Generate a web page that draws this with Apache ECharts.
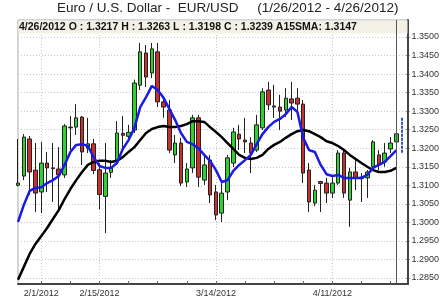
<!DOCTYPE html>
<html><head><meta charset="utf-8">
<script src="https://cdn.jsdelivr.net/npm/echarts@6/dist/echarts.min.js"></script>
<style>html,body{margin:0;padding:0;background:#fff}#c{width:442px;height:300px}</style>
</head><body><div id="c"></div>
<script>
const dates = ["1/26/2012","1/27/2012","1/30/2012","1/31/2012",
"2/1/2012","2/2/2012","2/3/2012","2/6/2012","2/7/2012","2/8/2012","2/9/2012","2/10/2012","2/13/2012","2/14/2012","2/15/2012","2/16/2012","2/17/2012","2/20/2012","2/21/2012","2/22/2012","2/23/2012","2/24/2012","2/27/2012","2/28/2012","2/29/2012",
"3/1/2012","3/2/2012","3/5/2012","3/6/2012","3/7/2012","3/8/2012","3/9/2012","3/12/2012","3/13/2012","3/14/2012","3/15/2012","3/16/2012","3/19/2012","3/20/2012","3/21/2012","3/22/2012","3/23/2012","3/26/2012","3/27/2012","3/28/2012","3/29/2012","3/30/2012",
"4/2/2012","4/3/2012","4/4/2012","4/5/2012","4/6/2012","4/9/2012","4/10/2012","4/11/2012","4/12/2012","4/13/2012","4/16/2012","4/17/2012","4/18/2012","4/19/2012","4/20/2012","4/23/2012","4/24/2012","4/25/2012","4/26/2012",
"4/27/2012","4/30/2012"];
const opens  = [1.3100,1.3125,1.3225,1.3141,1.3082,1.3160,1.3147,1.3144,1.3128,1.3257,1.3257,1.3284,1.3200,1.3212,1.3142,1.3070,1.3135,1.3163,1.3240,1.3232,1.3249,1.3370,1.3457,1.3403,1.3460,1.3325,1.3303,1.3182,1.3214,1.3109,1.3147,1.3282,1.3114,1.3168,1.3082,1.3025,1.3082,1.3160,1.3238,1.3222,1.3214,1.3195,1.3255,1.3357,1.3314,1.3311,1.3303,1.3333,1.3335,1.3319,1.3141,1.3052,1.3110,1.3106,1.3079,1.3106,1.3187,1.3060,1.3136,1.3122,1.3120,1.3150,1.3182,1.3163,1.3198,1.3217];
const highs  = [1.3225,1.3238,1.3233,1.3214,1.3217,1.3190,1.3214,1.3203,1.3265,1.3287,1.3319,1.3287,1.3282,1.3225,1.3160,1.3214,1.3168,1.3273,1.3287,1.3263,1.3385,1.3484,1.3478,1.3484,1.3484,1.3330,1.3330,1.3236,1.3228,1.3160,1.3290,1.3290,1.3182,1.3182,1.3101,1.3106,1.3182,1.3255,1.3263,1.3282,1.3230,1.3290,1.3362,1.3379,1.3371,1.3344,1.3362,1.3379,1.3362,1.3330,1.3160,1.3101,1.3112,1.3120,1.3122,1.3195,1.3195,1.3147,1.3168,1.3133,1.3141,1.3222,1.3195,1.3214,1.3230,1.3263];
const lows   = [1.3097,1.3114,1.3074,1.3028,1.3025,1.3082,1.3055,1.3033,1.3120,1.3195,1.3236,1.3155,1.3187,1.3130,1.3035,1.2971,1.3120,1.3155,1.3195,1.3222,1.3241,1.3357,1.3365,1.3389,1.3311,1.3282,1.3187,1.3160,1.3098,1.3095,1.3133,1.3095,1.3101,1.3052,1.3006,1.3001,1.3060,1.3149,1.3195,1.3187,1.3133,1.3190,1.3249,1.3303,1.3282,1.3249,1.3284,1.3276,1.3300,1.3106,1.3028,1.3044,1.3028,1.3052,1.3066,1.3101,1.3066,1.2988,1.3087,1.3055,1.3066,1.3147,1.3141,1.3150,1.3187,1.3198];
const closes = [1.3106,1.3230,1.3136,1.3079,1.3160,1.3147,1.3145,1.3128,1.3260,1.3255,1.3282,1.3190,1.3212,1.3140,1.3075,1.3133,1.3148,1.3241,1.3235,1.3243,1.3376,1.3460,1.3392,1.3468,1.3325,1.3311,1.3195,1.3214,1.3106,1.3144,1.3282,1.3122,1.3155,1.3074,1.3020,1.3079,1.3174,1.3244,1.3225,1.3217,1.3187,1.3263,1.3352,1.3317,1.3311,1.3300,1.3335,1.3322,1.3319,1.3133,1.3055,1.3087,1.3105,1.3079,1.3106,1.3187,1.3079,1.3136,1.3120,1.3118,1.3136,1.3217,1.3155,1.3187,1.3214,1.3239];
const sma15  = [1.2845,1.2880,1.2915,1.2942,1.2963,1.2985,1.3009,1.3033,1.3063,1.3090,1.3114,1.3136,1.3155,1.3163,1.3166,1.3166,1.3163,1.3166,1.3176,1.3190,1.3203,1.3222,1.3241,1.3252,1.3257,1.3260,1.3257,1.3257,1.3260,1.3265,1.3273,1.3273,1.3271,1.3257,1.3244,1.3230,1.3214,1.3198,1.3182,1.3174,1.3171,1.3174,1.3182,1.3198,1.3209,1.3217,1.3228,1.3238,1.3246,1.3249,1.3246,1.3238,1.3230,1.3219,1.3214,1.3206,1.3195,1.3182,1.3171,1.3160,1.3150,1.3141,1.3136,1.3136,1.3139,1.3147];
const smaFast = [1.3001,1.3047,1.3085,1.3093,1.3095,1.3106,1.3114,1.3125,1.3155,1.3190,1.3209,1.3211,1.3206,1.3176,1.3152,1.3147,1.3147,1.3160,1.3198,1.3222,1.3255,1.3311,1.3338,1.3368,1.3357,1.3336,1.3306,1.3276,1.3241,1.3217,1.3211,1.3200,1.3182,1.3166,1.3141,1.3109,1.3114,1.3139,1.3155,1.3168,1.3182,1.3211,1.3238,1.3257,1.3271,1.3279,1.3292,1.3311,1.3298,1.3228,1.3195,1.3190,1.3155,1.3130,1.3125,1.3128,1.3120,1.3120,1.3120,1.3120,1.3128,1.3147,1.3155,1.3163,1.3179,1.3195];
const projDate = "4/27/2012";
const projRange = [1.3282, 1.3187];
const labelDates = ["2/1/2012","2/15/2012","3/14/2012","4/11/2012"];
const yLabelMin = 1.2850, yLabelMax = 1.3500, yStep = 0.0050;

// layout (pixels)
const L = 18, R = 408, T = 20, B = 284, LT = 37, LB = 278, W = 442, H = 300;
const k = (yLabelMax - yLabelMin) / (LB - LT);
const dataMax = yLabelMax + (LT - T) * k;
const dataMin = yLabelMin - (B - LB) * k;
const FF = '"Liberation Sans", Arial, sans-serif';
const last = 65;

const candles = opens.map((o, i) => [o, closes[i], lows[i], highs[i]]);
const headerText = `${dates[last]} O : ${opens[last].toFixed(4)} H : ${highs[last].toFixed(4)} L : ${lows[last].toFixed(4)} C : ${closes[last].toFixed(4)} A15SMA: ${sma15[last].toFixed(4)}`;

const chart = echarts.init(document.getElementById('c'), null, {renderer: 'canvas'});
chart.setOption({
  animation: false,
  backgroundColor: '#fff',
  title: {
    text: 'Euro / U.S. Dollar -  EUR/USD     (1/26/2012 - 4/26/2012)',
    left: 57, top: 1, padding: 0,
    textStyle: {fontFamily: FF, fontSize: 13.5, fontWeight: 'normal', color: '#222'}
  },
  grid: [
    {left: L, right: W - R, top: T, bottom: H - B, show: true, borderColor: '#aaa', borderWidth: 1},
    {left: L, right: W - R, top: LT, bottom: H - LB, show: false}
  ],
  xAxis: [
    {type: 'category', gridIndex: 0, data: dates, boundaryGap: false,
     axisLine: {show: true, lineStyle: {color: '#444', width: 2}},
     axisTick: {show: true, inside: true, length: 3, lineStyle: {color: '#666'},
                interval: (i) => i >= 4 && (i - 4) % 5 === 0},
     axisLabel: {show: true, interval: (i, v) => labelDates.includes(v), fontFamily: FF, fontSize: 9, color: '#333', margin: 5},
     splitLine: {show: true, interval: (i, v) => labelDates.includes(v), lineStyle: {color: '#c8c8c8', type: [1, 2]}}},
    {type: 'category', gridIndex: 1, data: dates, boundaryGap: false, show: false}
  ],
  yAxis: [
    {type: 'value', gridIndex: 0, min: dataMin, max: dataMax, position: 'right',
     axisLine: {show: true, lineStyle: {color: '#444', width: 2}},
     axisTick: {show: false}, axisLabel: {show: false}, splitLine: {show: false}},
    {type: 'value', gridIndex: 1, min: yLabelMin, max: yLabelMax, interval: yStep, position: 'right',
     axisLine: {show: false},
     axisTick: {show: true, length: 3, lineStyle: {color: '#444'}},
     axisLabel: {fontFamily: FF, fontSize: 9, color: '#333', margin: 5, formatter: v => v.toFixed(4)},
     splitLine: {show: true, lineStyle: {color: '#c8c8c8', type: [1, 2]}}}
  ],
  graphic: [
    {type: 'rect', z: 1, shape: {x: L + 0.5, y: T + 0.5, width: R - L - 1, height: 13}, style: {fill: '#f3f0e6', stroke: null}},
    {type: 'text', z: 10, x: L + 1, y: T + 7, style: {text: headerText, font: 'bold 10.5px ' + FF, fill: '#111', verticalAlign: 'middle'}}
  ],
  series: [
    {type: 'candlestick', xAxisIndex: 0, yAxisIndex: 0, data: candles, barWidth: 4, z: 2,
     itemStyle: {color: '#2fd12f', color0: '#c8302c', borderColor: '#222', borderColor0: '#222', borderWidth: 1},
     markLine: {silent: true, symbol: 'none', label: {show: false}, animation: false,
       data: [
         {xAxis: dates[last], lineStyle: {color: '#555', width: 1, type: 'solid'}},
         [{coord: [projDate, projRange[0]], lineStyle: {color: '#3355cc', width: 2, type: [3, 1]}},
          {coord: [projDate, projRange[1]]}]
       ]}},
    {type: 'line', name: 'A15SMA', xAxisIndex: 0, yAxisIndex: 0, data: sma15, showSymbol: false, symbol: 'none', z: 3,
     lineStyle: {color: '#000', width: 2.5}},
    {type: 'line', name: 'Fast', xAxisIndex: 0, yAxisIndex: 0, data: smaFast, showSymbol: false, symbol: 'none', z: 4,
     lineStyle: {color: '#1a1ae6', width: 2.5}}
  ]
});
</script></body></html>
